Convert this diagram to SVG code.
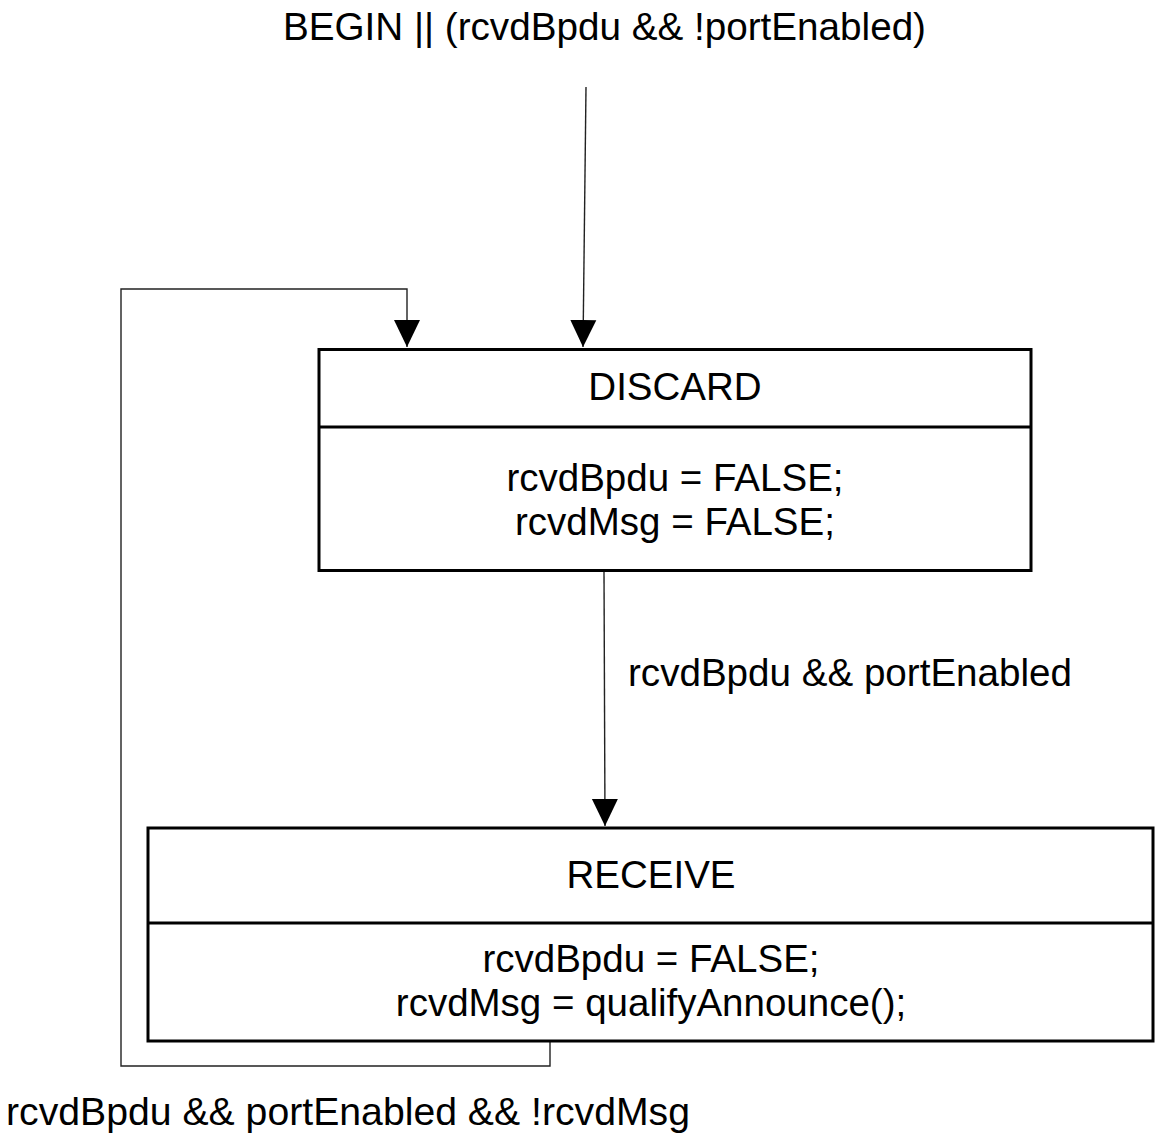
<svg xmlns="http://www.w3.org/2000/svg" width="1155" height="1140" viewBox="0 0 1155 1140">
<style>
text{font-family:"Liberation Sans",Arial,sans-serif;font-size:38.5px;fill:#000}
.c{text-anchor:middle}
.box{fill:#fff;stroke:#000;stroke-width:3}
.div{stroke:#000;stroke-width:3}
.edge{fill:none;stroke:#222;stroke-width:1.4}
</style>
<defs>
<marker id="ah" markerUnits="userSpaceOnUse" markerWidth="28" markerHeight="28" viewBox="0 0 28 28" refX="27" refY="14" orient="auto">
<path d="M0,1 L27,14 L0,27 Z" fill="#000"/>
</marker>
</defs>
<rect width="1155" height="1140" fill="#fff"/>
<g id="connectors">
<path class="edge" d="M586,87 L583,347" marker-end="url(#ah)"/>
<path class="edge" d="M550,1041 L550,1066 L121,1066 L121,289 L407,289 L407,347" marker-end="url(#ah)"/>
<path class="edge" d="M604,571 L605,826" marker-end="url(#ah)"/>
<text x="628" y="686" textLength="444" lengthAdjust="spacingAndGlyphs">rcvdBpdu &amp;&amp; portEnabled</text>
<text x="6" y="1125" textLength="684" lengthAdjust="spacingAndGlyphs">rcvdBpdu &amp;&amp; portEnabled &amp;&amp; !rcvdMsg</text>
</g>
<g id="title">
<text x="283" y="40" textLength="643" lengthAdjust="spacingAndGlyphs">BEGIN || (rcvdBpdu &amp;&amp; !portEnabled)</text>
</g>
<g id="discard">
<rect class="box" x="319" y="349.5" width="712" height="221"/>
<line class="div" x1="319" y1="427" x2="1031" y2="427"/>
<text class="c" x="675" y="400">DISCARD</text>
<text class="c" x="675" y="491">rcvdBpdu = FALSE;</text>
<text class="c" x="675" y="535">rcvdMsg = FALSE;</text>
</g>
<g id="receive">
<rect class="box" x="148" y="828" width="1005" height="213"/>
<line class="div" x1="148" y1="923" x2="1153" y2="923"/>
<text class="c" x="651" y="888">RECEIVE</text>
<text class="c" x="651" y="972">rcvdBpdu = FALSE;</text>
<text class="c" x="651" y="1016">rcvdMsg = qualifyAnnounce();</text>
</g>
</svg>
